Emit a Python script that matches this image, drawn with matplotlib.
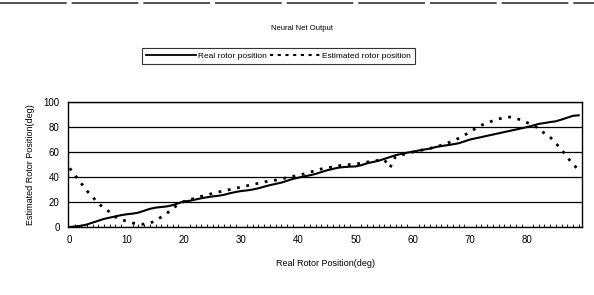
import matplotlib.pyplot as plt
from matplotlib.lines import Line2D

plt.rcParams["font.family"] = ["Liberation Sans", "DejaVu Sans"]

# real rotor position (deg), one sample per degree
positions = list(range(90))
real_pos = [0, 0.5, 1, 2, 3.5, 5, 6.5, 7.5, 8.5, 9.5,
            10.2, 10.7, 11.5, 13, 14.5, 15.5, 16, 16.5, 17.5, 19,
            20.5, 21, 22, 23, 23.8, 24.5, 25, 25.8, 27, 28,
            28.8, 29.3, 30, 31, 32.3, 33.5, 34.5, 35.5, 37, 38.5,
            39.5, 40.5, 41.4, 42.5, 44, 45.4, 46.5, 47.5, 48, 48.3,
            48.5, 49.5, 51, 52, 53, 54.5, 56, 57.5, 58.5, 59.5,
            60.3, 61.2, 62, 62.8, 64, 64.8, 65.5, 66.2, 67, 68.5,
            70, 71, 72, 73, 74, 75, 76, 77, 78, 79,
            80, 81.2, 82.5, 83.2, 84, 84.6, 86, 87.5, 89, 89.4]
est_pos = [47, 41, 35, 29, 24, 19, 15, 12, 8, 6,
           4.5, 3.2, 2.5, 2.2, 3, 5, 8, 11, 15, 18,
           20.5, 22, 23, 24.5, 25.5, 27, 28, 29, 30, 31,
           32, 33, 34, 35, 36, 37, 37.5, 38.5, 39.5, 40.5,
           41.5, 42.5, 44, 45, 46.5, 47.5, 48, 49, 49.5, 50,
           50.5, 51, 52, 52.5, 53.5, 54, 47.5, 56.5, 57.5, 59,
           60, 61, 62, 63, 64, 65.5, 67, 69, 71, 73.5,
           76, 79, 81.5, 83.5, 85, 86.5, 87.5, 88, 87, 85.5,
           83.5, 81.5, 79, 75, 72, 67, 62, 56, 50, 46]
x_ticks = [0, 10, 20, 30, 40, 50, 60, 70, 80]
y_ticks = [0, 20, 40, 60, 80, 100]

fig = plt.figure(figsize=(5.94, 2.95), dpi=100)
ax = fig.add_axes([0.1145, 0.2305, 0.8655, 0.4235])

ax.plot(positions, real_pos, color="black", lw=1.5, label="Real rotor position")
ax.plot(positions, est_pos, color="black", lw=2, linestyle=(0, (1, 2.4)),
        label="Estimated rotor position")

ax.set_xlim(-0.3, 89.6)
ax.set_ylim(0, 100)
ax.set_xticks(x_ticks)
ax.set_yticks(y_ticks)
ax.set_xticks(positions, minor=True)
ax.tick_params(axis="both", which="major", length=0, labelsize=7, pad=6)
ax.tick_params(axis="x", which="minor", direction="in", length=2, width=0.6)
ax.yaxis.grid(True, color="black", lw=0.9)
for s in ax.spines.values():
    s.set_linewidth(1.0)

ax.set_xlabel("Real Rotor Position(deg)", fontsize=6.5, labelpad=10)
ax.set_ylabel("Estimated Rotor Position(deg)", fontsize=6.5, labelpad=6)

fig.text(0.508, 0.905, "Neural Net Output", fontsize=5.5, ha="center", va="center")

handles = [Line2D([], [], color="black", lw=1.3),
           Line2D([], [], color="black", lw=1.5, linestyle=(0, (1.5, 2.2)))]
leg = fig.legend(handles, ["Real rotor position", "Estimated rotor position"],
                 loc="center", bbox_to_anchor=(0.469, 0.81), ncol=2,
                 fontsize=6, frameon=True, fancybox=False, handlelength=6,
                 columnspacing=0.3, handletextpad=0.3, borderpad=0.5)
leg.get_frame().set_edgecolor("black")
leg.get_frame().set_linewidth(0.8)

# scanned page border at the top
fig.add_artist(Line2D([0, 1], [0.99, 0.99], color="#333333", lw=1.2,
                      linestyle=(0, (40, 3))))

fig.savefig("out.png", dpi=100)
